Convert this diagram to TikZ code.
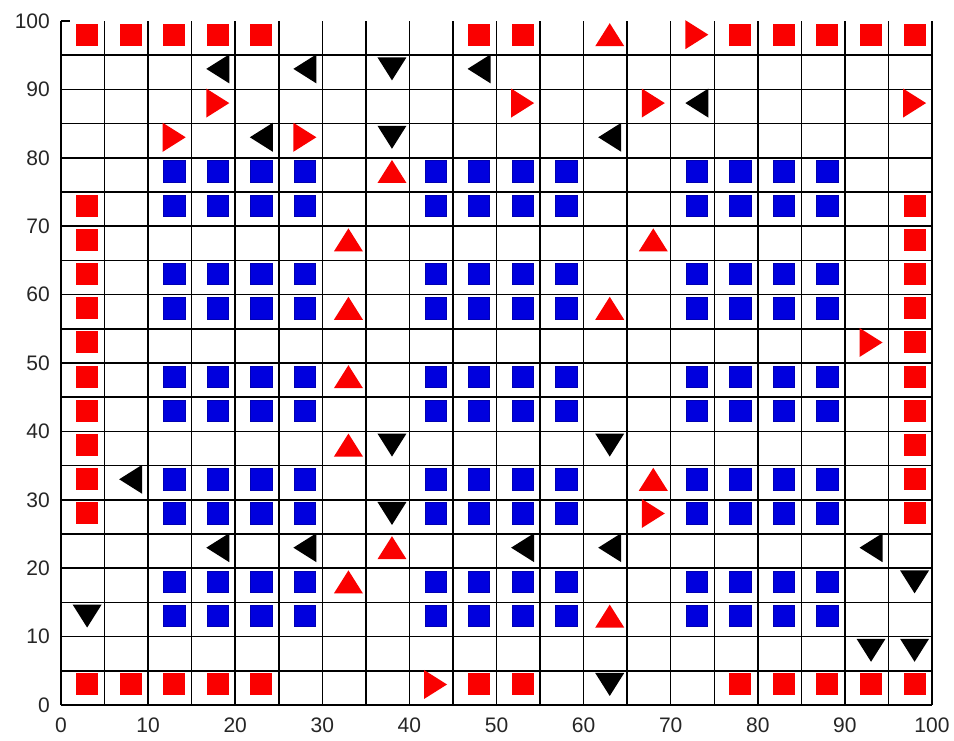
\documentclass[tikz,border=0pt]{standalone}
\usepackage{fontspec}
\setmainfont{Liberation Sans}
\definecolor{mred}{RGB}{250,0,0}
\definecolor{mblue}{RGB}{0,0,222}
\tikzset{
  gridline/.style={line width=1.5pt,black},
  ticklabel/.style={font=\fontsize{21}{21}\selectfont,text=black!85,inner sep=0pt},
  rsq/.pic={\fill[mred] (-11pt,-11pt) rectangle (11pt,11pt);},
  bsq/.pic={\fill[mblue,draw=mblue!80!black,line width=0.6pt] (-10.7pt,-10.7pt) rectangle (10.7pt,10.7pt);},
  rup/.pic={\fill[mred] (-14.5pt,-11.5pt) -- (14.5pt,-11.5pt) -- (0pt,11.5pt) -- cycle;},
  rright/.pic={\fill[mred] (-11.5pt,-14.5pt) -- (-11.5pt,14.5pt) -- (11.5pt,0pt) -- cycle;},
  kdown/.pic={\fill[black] (-14.5pt,11.5pt) -- (14.5pt,11.5pt) -- (0pt,-11.5pt) -- cycle;},
  kleft/.pic={\fill[black] (11.5pt,-14.5pt) -- (11.5pt,14.5pt) -- (-11.5pt,0pt) -- cycle;}
}
\begin{document}
\begin{tikzpicture}[x=8.71pt,y=6.84pt]
\useasboundingbox[fill=white] (-61pt,-35pt) rectangle (893pt,705pt);
% grid
\foreach \g in {0,5,...,95} \draw[gridline] (0,\g) -- (100,\g);
\foreach \g in {0,5,...,100} \draw[gridline] (\g,0) -- (\g,100);
\draw[gridline] (0,100) -- ++(9pt,0);
% tick labels
\foreach \t in {0,10,...,100} {
  \node[ticklabel,anchor=north] (xl\t) at ([yshift=-13pt]\t,0) {\t};
  \node[ticklabel,anchor=east] (yl\t) at ([xshift=-11pt]0,\t) {\t};
}
% blue squares
\foreach \x in {13,18,23,28,43,48,53,58,73,78,83,88}
  \foreach \y in {13,18,28,33,43,48,58,63,73,78}
    \pic at (\x,\y) {bsq};
% red squares
\foreach \x in {3,8,13,18,23,48,53,78,83,88,93,98} {
  \pic at (\x,98) {rsq};
  \pic at (\x,3) {rsq};
}
\foreach \y in {28,33,...,73} {
  \pic at (3,\y) {rsq};
  \pic at (98,\y) {rsq};
}
% red up triangles
\foreach \p in {(63,98),(38,78),(33,68),(68,68),(33,58),(63,58),(33,48),(33,38),(68,33),(38,23),(33,18),(63,13)}
  \pic at \p {rup};
% red right triangles
\foreach \p in {(73,98),(18,88),(53,88),(68,88),(98,88),(13,83),(28,83),(93,53),(68,28),(43,3)}
  \pic at \p {rright};
% black down triangles
\foreach \p in {(38,93),(38,83),(38,38),(63,38),(38,28),(98,18),(3,13),(93,8),(98,8),(63,3)}
  \pic at \p {kdown};
% black left triangles
\foreach \p in {(18,93),(28,93),(48,93),(73,88),(23,83),(63,83),(8,33),(18,23),(28,23),(53,23),(63,23),(93,23)}
  \pic at \p {kleft};
\end{tikzpicture}
\end{document}
